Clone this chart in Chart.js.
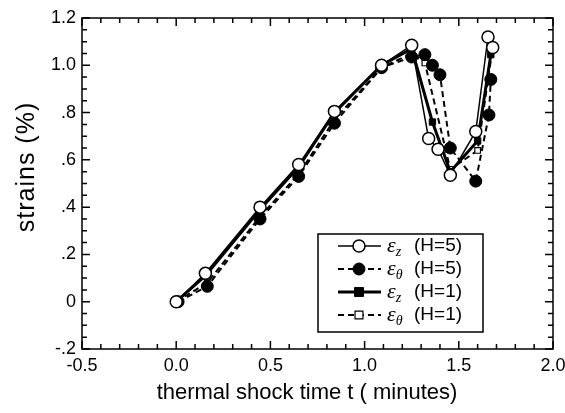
<!DOCTYPE html>
<html lang="en">
<head>
<meta charset="UTF-8">
<title>Strains vs thermal shock time</title>
<script src="https://cdn.jsdelivr.net/npm/chart.js"></script>
<style>
  html, body { margin: 0; padding: 0; background: #fff; }
  #wrap { width: 565px; height: 413px; }
</style>
</head>
<body>
<div id="wrap"><canvas id="strainChart" width="565" height="413"></canvas></div>
<script>
// values (time in minutes, strain in %)
const timeZ5   = [0, 0.155, 0.445, 0.65, 0.84, 1.09, 1.25, 1.34, 1.39, 1.455, 1.59, 1.655, 1.68];
const strainZ5 = [0, 0.12, 0.40, 0.58, 0.805, 1.0, 1.085, 0.69, 0.645, 0.535, 0.72, 1.12, 1.075];

const timeT5   = [0.01, 0.165, 0.445, 0.65, 0.84, 1.09, 1.25, 1.32, 1.36, 1.40, 1.455, 1.59, 1.66, 1.67];
const strainT5 = [0, 0.065, 0.35, 0.53, 0.755, 0.99, 1.035, 1.045, 1.0, 0.96, 0.65, 0.51, 0.79, 0.94];

const timeZ1   = [0, 0.155, 0.445, 0.65, 0.84, 1.09, 1.25, 1.36, 1.455, 1.60, 1.67];
const strainZ1 = [0, 0.11, 0.39, 0.57, 0.80, 1.0, 1.07, 0.76, 0.55, 0.68, 1.045];

const timeT1   = [0, 0.165, 0.445, 0.65, 0.84, 1.09, 1.25, 1.32, 1.455, 1.60, 1.68];
const strainT1 = [0, 0.08, 0.36, 0.54, 0.77, 0.99, 1.05, 1.01, 0.56, 0.64, 1.075];

const xTickLabels = ["-0.5", "0.0", "0.5", "1.0", "1.5", "2.0"];
const yTickLabels = ["-.2", "0", ".2", ".4", ".6", ".8", "1.0", "1.2"];

const xTitle = "thermal shock time t ( minutes)";
const yTitle = "strains (%)";

const seriesSub = ["z", "\u03b8", "z", "\u03b8"];
const seriesH = ["(H=5)", "(H=5)", "(H=1)", "(H=1)"];

function toPoints(xs, ys) {
    return xs.map((x, i) => ({ x: x, y: ys[i] }));
}

const datasets = [
    {
        label: "\u03b5z (H=5)",
        data: toPoints(timeZ5, strainZ5),
        borderColor: "#000", borderWidth: 1.5,
        pointStyle: "circle", pointRadius: 6, pointBorderWidth: 1.5,
        pointBackgroundColor: "#fff", pointBorderColor: "#000",
        order: 0
    },
    {
        label: "\u03b5\u03b8 (H=5)",
        data: toPoints(timeT5, strainT5),
        borderColor: "#000", borderWidth: 2, borderDash: [6, 4],
        pointStyle: "circle", pointRadius: 6, pointBorderWidth: 1,
        pointBackgroundColor: "#000", pointBorderColor: "#000",
        order: 2
    },
    {
        label: "\u03b5z (H=1)",
        data: toPoints(timeZ1, strainZ1),
        borderColor: "#000", borderWidth: 3,
        pointStyle: "rect", pointRadius: 4.5, pointBorderWidth: 1,
        pointBackgroundColor: "#000", pointBorderColor: "#000",
        order: 1
    },
    {
        label: "\u03b5\u03b8 (H=1)",
        data: toPoints(timeT1, strainT1),
        borderColor: "#000", borderWidth: 2, borderDash: [6, 4],
        pointStyle: "rect", pointRadius: 4, pointBorderWidth: 1.2,
        pointBackgroundColor: "#fff", pointBorderColor: "#000",
        order: 3
    }
];

// frame, inward ticks on all four sides, axis titles and the boxed legend
const framePlugin = {
    id: "frame",
    afterDatasetsDraw(chart) {
        const ctx = chart.ctx;
        const a = chart.chartArea;
        const xs = chart.scales.x, ys = chart.scales.y;
        ctx.save();
        ctx.strokeStyle = "#000";
        ctx.lineWidth = 1.5;
        ctx.strokeRect(a.left, a.top, a.right - a.left, a.bottom - a.top);

        ctx.beginPath();
        for (let i = 0; i <= 25; i++) {
            const v = -0.5 + i * 0.1;
            const px = xs.getPixelForValue(v);
            const len = (i % 5 === 0) ? 8 : 5;
            ctx.moveTo(px, a.bottom); ctx.lineTo(px, a.bottom - len);
            ctx.moveTo(px, a.top); ctx.lineTo(px, a.top + len);
        }
        for (let i = 0; i <= 28; i++) {
            const v = -0.2 + i * 0.05;
            const py = ys.getPixelForValue(v);
            const len = (i % 4 === 0) ? 8 : 5;
            ctx.moveTo(a.left, py); ctx.lineTo(a.left + len, py);
            ctx.moveTo(a.right, py); ctx.lineTo(a.right - len, py);
        }
        ctx.stroke();
        ctx.restore();
    },
    afterDraw(chart) {
        const ctx = chart.ctx;
        ctx.save();

        // axis titles (the figure has them a little off-centre)
        ctx.fillStyle = "#000";
        ctx.textAlign = "center";
        ctx.textBaseline = "middle";
        ctx.font = "22px 'Liberation Sans'";
        ctx.fillText(xTitle, 307, 393);
        ctx.save();
        ctx.translate(27, 167);
        ctx.rotate(-Math.PI / 2);
        ctx.font = "25px 'Liberation Sans'";
        ctx.letterSpacing = "1px";
        ctx.fillText(yTitle, 0, 0);
        ctx.restore();

        const box = { x: 318, y: 234, w: 165, h: 98 };
        ctx.fillStyle = "#fff";
        ctx.fillRect(box.x, box.y, box.w, box.h);
        ctx.strokeStyle = "#000";
        ctx.lineWidth = 1.5;
        ctx.strokeRect(box.x, box.y, box.w, box.h);

        chart.data.datasets.forEach((ds, i) => {
            const y = 246 + i * 23;
            ctx.strokeStyle = "#000";
            ctx.lineWidth = ds.borderWidth;
            ctx.setLineDash(ds.borderDash || []);
            ctx.beginPath();
            ctx.moveTo(338, y); ctx.lineTo(381, y);
            ctx.stroke();
            ctx.setLineDash([]);

            ctx.fillStyle = ds.pointBackgroundColor;
            ctx.lineWidth = ds.pointBorderWidth;
            const r = ds.pointRadius;
            ctx.beginPath();
            if (ds.pointStyle === "circle") {
                ctx.arc(359, y, r, 0, Math.PI * 2);
            } else {
                const s = r * Math.SQRT1_2 * 1.4;
                ctx.rect(359 - s, y - s, 2 * s, 2 * s);
            }
            ctx.fill();
            ctx.stroke();

            ctx.fillStyle = "#000";
            ctx.textBaseline = "middle";
            ctx.textAlign = "left";
            ctx.font = "italic 22px 'Liberation Serif'";
            ctx.fillText("\u03b5", 387, y);
            const ew = ctx.measureText("\u03b5").width;
            ctx.font = "italic 14px 'Liberation Serif'";
            ctx.fillText(seriesSub[i], 387 + ew, y + 6);
            ctx.font = "19px 'Liberation Sans'";
            ctx.fillText(seriesH[i], 414, y);
        });
        ctx.restore();
    }
};

new Chart(document.getElementById("strainChart"), {
    type: "scatter",
    data: { datasets: datasets },
    options: {
        responsive: false,
        animation: false,
        showLine: true,
        layout: { padding: { top: 18, right: 12, left: 0, bottom: 0 } },
        plugins: { legend: { display: false }, tooltip: { enabled: false } },
        scales: {
            x: {
                type: "linear", min: -0.5, max: 2.0,
                afterFit(scale) {
                    scale.height = 64;
                    scale.paddingLeft = 0;
                    scale.paddingRight = 0;
                },
                grid: { display: false, drawTicks: false },
                border: { display: false },
                ticks: {
                    stepSize: 0.5, padding: 6, color: "#000",
                    font: { family: "'Liberation Sans'", size: 18 },
                    callback: (v, i) => xTickLabels[i]
                },
                title: { display: false, text: xTitle }
            },
            y: {
                type: "linear", min: -0.2, max: 1.2,
                afterFit(scale) {
                    scale.width = 82;
                    scale.paddingTop = 0;
                    scale.paddingBottom = 0;
                },
                grid: { display: false, drawTicks: false },
                border: { display: false },
                ticks: {
                    stepSize: 0.2, padding: 6, color: "#000",
                    font: { family: "'Liberation Sans'", size: 18 },
                    callback: (v, i) => yTickLabels[i]
                },
                title: { display: false, text: yTitle }
            }
        }
    },
    plugins: [framePlugin]
});
</script>
</body>
</html>
